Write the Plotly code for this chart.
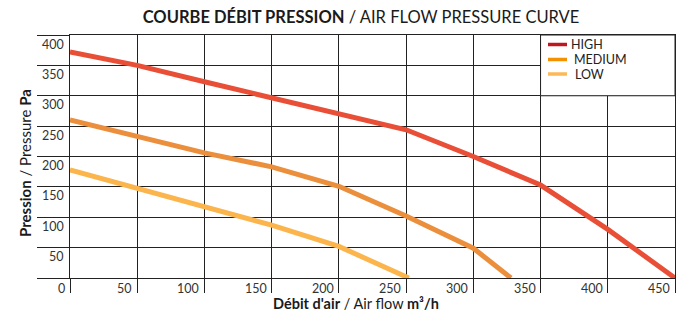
import plotly.graph_objects as go

# ---- data ----
high_x = [0, 50, 100, 150, 200, 250, 300, 350, 400, 450]
high_y = [372, 350, 323, 296, 270, 244, 200, 153, 80, 0]
med_x = [0, 50, 100, 150, 200, 250, 300, 328]
med_y = [260, 233, 206, 183, 151, 102, 49, 0]
low_x = [0, 50, 100, 150, 200, 252]
low_y = [178, 147, 116, 87, 52, 0]
x_ticks = [0, 50, 100, 150, 200, 250, 300, 350, 400, 450]
y_ticks = [50, 100, 150, 200, 250, 300, 350, 400]
legend_names = ["HIGH", "MEDIUM", "LOW"]
legend_colors = ["#c1151f", "#f39200", "#fbb957"]
line_colors = ["#e94f37", "#ec8f3c", "#fbb54c"]

FONT = "Lato"
GRID = "#222222"

# plot-area pixel frame
L, R, T, B = 70, 675, 35, 278
PW, PH = R - L, B - T


def px(x):
    return (x - L) / PW


def py(y):
    return (B - y) / PH


fig = go.Figure()
for xs, ys, c, n in [(high_x, high_y, line_colors[0], "HIGH"),
                     (med_x, med_y, line_colors[1], "MEDIUM"),
                     (low_x, low_y, line_colors[2], "LOW")]:
    fig.add_trace(go.Scatter(x=xs, y=ys, mode="lines", name=n,
                             line=dict(color=c, width=5),
                             showlegend=False, hoverinfo="skip"))

fig.update_layout(
    width=689, height=311,
    margin=dict(l=L, r=689 - R, t=T, b=311 - B),
    paper_bgcolor="white", plot_bgcolor="white",
    font=dict(family=FONT, color="#333333", size=13),
    title=dict(text="<b>COURBE DÉBIT PRESSION</b> / AIR FLOW PRESSURE CURVE",
               x=361 / 689, xanchor="center", y=1 - 17 / 311, yanchor="middle",
               font=dict(family=FONT, size=16.5, color="#1a1a1a")),
    xaxis=dict(range=[0, 450], tickvals=x_ticks, showticklabels=False,
               showgrid=True, gridcolor=GRID, gridwidth=1, zeroline=False,
               showline=True, linecolor=GRID, linewidth=1, mirror=True,
               ticks="outside", ticklen=14, tickcolor=GRID, tickwidth=1),
    yaxis=dict(range=[0, 400], tickvals=[0] + y_ticks, showticklabels=False,
               showgrid=True, gridcolor=GRID, gridwidth=1, zeroline=False,
               showline=True, linecolor=GRID, linewidth=1, mirror=True,
               ticks="outside", ticklen=32, tickcolor=GRID, tickwidth=1),
)

annotations = []
for v in y_ticks:
    annotations.append(dict(x=px(66), xref="paper", xanchor="right", y=v, yref="y",
                            yanchor="middle", yshift=-9, text=str(v), showarrow=False,
                            font=dict(family=FONT, size=12.5, color="#333333")))
for v in x_ticks:
    annotations.append(dict(x=v, xref="x", xanchor="right", xshift=-3, y=0, yref="paper",
                            yanchor="middle", yshift=-10, text=str(v), showarrow=False,
                            font=dict(family=FONT, size=12.5, color="#333333")))
# axis titles
annotations.append(dict(x=px(356), xref="paper", y=py(303.5), yref="paper",
                        xanchor="center", yanchor="middle", showarrow=False,
                        text="<b>Débit d'air</b> / Air flow <b>m³/h</b>",
                        font=dict(family=FONT, size=14.5, color="#1a1a1a")))
annotations.append(dict(x=px(25), xref="paper", y=py(163), yref="paper",
                        xanchor="center", yanchor="middle", showarrow=False, textangle=-90,
                        text="<b>Pression</b> / Pressure <b>Pa</b>",
                        font=dict(family=FONT, size=15, color="#1a1a1a")))

# legend box (white panel over grid)
shapes = [dict(type="rect", xref="x", yref="y", x0=350, x1=450, y0=300, y1=400,
               fillcolor="white", line=dict(color=GRID, width=1), layer="above")]
leg_y = [44.5, 59.5, 74]
text_x = [570, 573, 574]
for name, col, ly, tx in zip(legend_names, legend_colors, leg_y, text_x):
    shapes.append(dict(type="line", xref="paper", yref="paper",
                       x0=px(548), x1=px(567), y0=py(ly), y1=py(ly),
                       line=dict(color=col, width=3.5), layer="above"))
    annotations.append(dict(x=px(tx), xref="paper", xanchor="left",
                            y=py(ly), yref="paper", yanchor="middle", showarrow=False,
                            text=name, font=dict(family=FONT, size=12.5, color="#222222"),
                            borderpad=0))

fig.update_layout(shapes=shapes, annotations=annotations)
fig.write_html("out.html", config={"displayModeBar": False},
               post_script="document.body.style.margin='0';document.body.style.overflow='hidden';")
